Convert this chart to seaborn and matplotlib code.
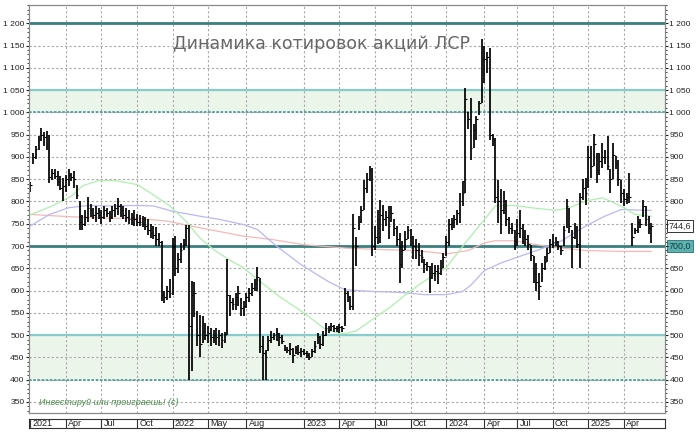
import matplotlib
matplotlib.use("Agg")
import matplotlib.pyplot as plt
import matplotlib.transforms as mtransforms
from matplotlib.ticker import MultipleLocator, FuncFormatter
import seaborn as sns

# weekly bars, Jan 2021 .. May 2025 (MOEX closure in Mar 2022 has no bars)
high = [
    843, 908, 925, 948, 966, 955, 958, 950, 872, 872, 868, 858,
    853, 860, 872, 865, 868, 838, 800, 770, 780, 811, 795, 785,
    790, 785, 780, 790, 785, 778, 790, 795, 808, 795, 790, 785,
    780, 775, 780, 772, 770, 768, 765, 760, 750, 745, 742, 730,
    712, 600, 610, 625, 718, 722, 685, 707, 715, 748, 748, 622,
    620, 555, 545, 542, 527, 520, 516, 512, 515, 512, 505, 508,
    670, 591, 584, 595, 610, 584, 576, 595, 605, 617, 625, 653,
    628, 497, 467, 497, 509, 505, 516, 505, 500, 477, 474, 482,
    471, 475, 478, 471, 468, 464, 460, 470, 486, 505, 497, 509,
    527, 520, 527, 522, 520, 525, 520, 606, 600, 587, 771, 720,
    767, 790, 849, 865, 880, 876, 745, 782, 804, 793, 778, 790,
    790, 760, 745, 730, 712, 733, 745, 738, 722, 715, 707, 692,
    670, 665, 655, 662, 658, 658, 668, 685, 722, 760, 763, 770,
    782, 819, 845, 1055, 1000, 1033, 973, 992, 1025, 1164, 1149, 1135,
    1145, 951, 943, 849, 827, 823, 804, 765, 752, 737, 760, 782,
    750, 735, 725, 703, 677, 662, 640, 662, 677, 695, 715, 726,
    720, 712, 700, 745, 805, 786, 737, 752, 745, 820, 850, 853,
    924, 924, 951, 909, 909, 932, 915, 947, 872, 932, 902, 894,
    849, 827, 820, 864, 752, 740, 767, 760, 804, 790, 767, 752,
]
low = [
    822, 885, 895, 915, 935, 925, 915, 842, 848, 850, 835, 825,
    800, 822, 835, 846, 830, 805, 737, 735, 745, 755, 765, 760,
    755, 760, 750, 760, 765, 755, 760, 765, 770, 765, 760, 755,
    750, 748, 745, 745, 745, 742, 735, 725, 718, 715, 700, 700,
    576, 572, 580, 584, 590, 632, 640, 662, 692, 700, 400, 420,
    540, 475, 452, 482, 490, 482, 475, 482, 478, 475, 471, 482,
    500, 542, 557, 557, 565, 542, 542, 561, 575, 587, 600, 599,
    460, 400, 400, 465, 483, 490, 488, 475, 480, 464, 460, 456,
    437, 458, 455, 452, 455, 449, 445, 452, 460, 480, 468, 475,
    497, 505, 509, 508, 507, 505, 508, 520, 575, 557, 557, 655,
    737, 752, 780, 820, 845, 677, 692, 705, 707, 733, 745, 715,
    755, 722, 700, 617, 651, 692, 715, 700, 670, 672, 655, 662,
    640, 645, 595, 625, 621, 614, 635, 650, 677, 700, 737, 740,
    748, 752, 790, 819, 962, 894, 920, 939, 995, 1022, 1067, 1089,
    939, 924, 797, 752, 726, 771, 745, 726, 726, 692, 700, 718,
    705, 700, 690, 666, 617, 600, 580, 620, 647, 665, 685, 695,
    700, 690, 681, 700, 740, 730, 651, 715, 696, 651, 804, 793,
    830, 853, 880, 842, 860, 876, 885, 870, 820, 850, 872, 834,
    797, 790, 795, 797, 700, 726, 730, 740, 765, 745, 726, 707,
]
close = [
    838, 900, 918, 940, 950, 945, 925, 855, 865, 858, 845, 830,
    835, 850, 860, 855, 850, 815, 755, 750, 765, 785, 780, 770,
    775, 770, 765, 780, 775, 765, 780, 785, 790, 780, 770, 765,
    760, 765, 760, 755, 755, 750, 745, 735, 730, 725, 715, 710,
    590, 585, 600, 595, 700, 650, 670, 690, 705, 740, 520, 590,
    595, 500, 480, 510, 500, 505, 495, 500, 495, 500, 490, 500,
    590, 575, 570, 585, 595, 560, 565, 585, 595, 605, 615, 630,
    475, 460, 450, 490, 495, 500, 505, 495, 488, 470, 466, 470,
    455, 468, 462, 465, 460, 455, 452, 465, 475, 495, 480, 500,
    515, 512, 520, 515, 515, 518, 515, 595, 585, 565, 740, 700,
    755, 780, 830, 850, 870, 700, 720, 760, 770, 760, 765, 745,
    775, 740, 715, 660, 690, 715, 735, 720, 700, 690, 680, 675,
    660, 655, 630, 640, 645, 640, 650, 675, 710, 750, 755, 760,
    775, 800, 820, 1030, 985, 920, 960, 985, 1020, 1120, 1120, 1125,
    950, 940, 810, 800, 780, 800, 760, 740, 735, 710, 730, 740,
    720, 715, 705, 680, 640, 620, 610, 650, 665, 685, 705, 710,
    710, 700, 690, 735, 790, 745, 720, 740, 705, 810, 830, 820,
    900, 880, 930, 870, 890, 900, 900, 880, 850, 905, 885, 850,
    820, 805, 810, 810, 720, 735, 755, 750, 790, 760, 740, 744.6,
]

# moving averages (bar index, value)
ma_green_idx = [0, 8, 15, 19, 25, 31, 39, 45, 51, 57, 62, 67, 73, 78, 83, 91, 100, 108,
                114, 119, 125, 132, 138, 144, 152, 159, 165, 170, 177, 183, 192, 197,
                203, 209, 212, 217, 221, 227]
ma_green = [770, 790, 812, 835, 847, 847, 838, 815, 790, 755, 718, 692, 668, 651, 625, 587,
            550, 512, 503, 509, 535, 565, 595, 621, 651, 707, 752, 790, 791, 786, 780, 786,
            801, 808, 801, 786, 771, 767]
ma_blue_idx = [0, 7, 14, 21, 28, 39, 45, 52, 62, 69, 78, 83, 90, 99, 109, 115, 125, 135,
               144, 152, 158, 161, 166, 172, 179, 186, 194, 203, 210, 216, 227]
ma_blue = [745, 771, 786, 791, 790, 791, 790, 778, 767, 760, 748, 737, 700, 658, 620, 602,
           598, 596, 591, 591, 598, 612, 645, 662, 677, 692, 711, 745, 767, 782, 780]
ma_red_idx = [0, 11, 24, 39, 50, 62, 78, 88, 100, 116, 129, 140, 147, 152, 160, 166, 170,
              177, 185, 192, 203, 216, 227]
ma_red = [771, 767, 763, 762, 756, 741, 722, 715, 703, 695, 692, 690, 686, 682, 690, 707,
          712, 712, 703, 697, 690, 688, 688]

tick_idx = [0, 13, 26, 39, 52, 65, 79, 100, 113, 126, 139, 152, 166, 178, 191, 204, 217]
tick_labels = ["2021", "Apr", "Jul", "Oct", "2022", "May", "Aug", "2023", "Apr", "Jul",
               "Oct", "2024", "Apr", "Jul", "Oct", "2025", "Apr"]

levels_dark = [1200, 700]
band_levels = [(1000, 1050), (400, 500)]
last_price = 744.6
support = 700.0

sns.set_style("white")
plt.rcParams["font.family"] = ["Liberation Sans", "DejaVu Sans"]

fig = plt.figure(figsize=(7, 4.33), dpi=100)
ax = fig.add_axes([0.041, 0.0469, 0.909, 0.9416])
n = len(high)
idx = list(range(n))
ax.set_xlim(-0.6, 232.0)
ax.set_ylim(326, 1241)

# grid
grid_kw = dict(color="#a8a8a8", lw=0.8, ls=(0, (2, 2)), zorder=1)
for v in range(350, 1200, 50):
    ax.axhline(v, **grid_kw)
for t in tick_idx[1:]:
    ax.axvline(t, **grid_kw)

# support / resistance zones
for lo, hi in band_levels:
    ax.axhspan(lo, hi, color="#ebf5ea", zorder=0.5, lw=0)
    ax.axhline(hi, color="#88cccb", lw=1.6, zorder=2)
    ax.axhline(lo, color="#3f9999", lw=1.2, ls=(0, (1.5, 1)), zorder=2)
for v in levels_dark:
    ax.axhline(v, color="#3a7f80", lw=2.0, zorder=2)

# moving averages
sns.lineplot(x=ma_red_idx, y=ma_red, color="#f4b8b8", lw=0.9, ax=ax, zorder=3)
sns.lineplot(x=ma_blue_idx, y=ma_blue, color="#b8b8f2", lw=0.9, ax=ax, zorder=3)
sns.lineplot(x=ma_green_idx, y=ma_green, color="#b0eeb0", lw=0.9, ax=ax, zorder=3)

# OHLC-style bars
ax.vlines(idx, low, high, color="black", lw=1.25, zorder=4)
ax.hlines(close, idx, [i + 0.6 for i in idx], color="black", lw=0.8, zorder=4)

# axes styling
yt = list(range(350, 1201, 50))
tick_fmt = lambda v, p: f"{int(v):,}".replace(",", " ")
for a, fmt in ((ax, tick_fmt),
               (ax.twinx(), lambda v, p: "" if v in (700, 750) else tick_fmt(v, p))):
    a.set_ylim(326, 1241)
    a.set_xticks([])
    a.set_yticks(yt)
    a.yaxis.set_minor_locator(MultipleLocator(10))
    a.yaxis.set_major_formatter(FuncFormatter(fmt))
    a.tick_params(axis="y", which="major", length=2.5, width=0.8, labelsize=6.1, pad=0.6,
                  direction="out", colors="#222222")
    a.tick_params(axis="y", which="minor", length=1.5, width=0.6, direction="out")
    for s in a.spines.values():
        s.set_color("#888888")
        s.set_linewidth(0.8)

# price boxes on the right
tr = mtransforms.blended_transform_factory(ax.transAxes, ax.transData)
ax.text(1.006, last_price, f"{last_price:.1f}".replace(".", ","), transform=tr,
        fontsize=6.4, va="center", ha="left", zorder=10, clip_on=False,
        bbox=dict(boxstyle="square,pad=0.15", fc="white", ec="#333333", lw=0.7))
ax.text(1.006, support, f"{support:.1f}".replace(".", ","), transform=tr,
        fontsize=6.4, va="center", ha="left", zorder=10, clip_on=False, color="#0d3f40",
        bbox=dict(boxstyle="square,pad=0.15", fc="#5fb0b0", ec="#3a7f80", lw=0.7))

# titles
ax.text(0.46, 0.905, "Динамика котировок акций ЛСР", transform=ax.transAxes,
        fontsize=12.5, color="#676767", ha="center", va="center", zorder=6,
        family="DejaVu Sans")
ax.text(0.016, 0.026, "Инвестируй или проиграешь! (с)", transform=ax.transAxes,
        fontsize=6.5, color="#4c8c4c", style="italic", ha="left", va="center", zorder=6)

# date strip below the chart
axs = fig.add_axes([0.041, 0.0115, 0.909, 0.0208])
axs.set_xlim(ax.get_xlim())
axs.set_ylim(0, 1)
axs.set_xticks([])
axs.set_yticks([])
for s in axs.spines.values():
    s.set_color("#333333")
    s.set_linewidth(0.8)
for t, lab in zip(tick_idx, tick_labels):
    axs.axvline(t, color="#333333", lw=0.8)
    axs.text(t + 0.8, 0.45, lab, fontsize=6.5, ha="left", va="center", color="#222222")

fig.savefig("out.png", dpi=100)
